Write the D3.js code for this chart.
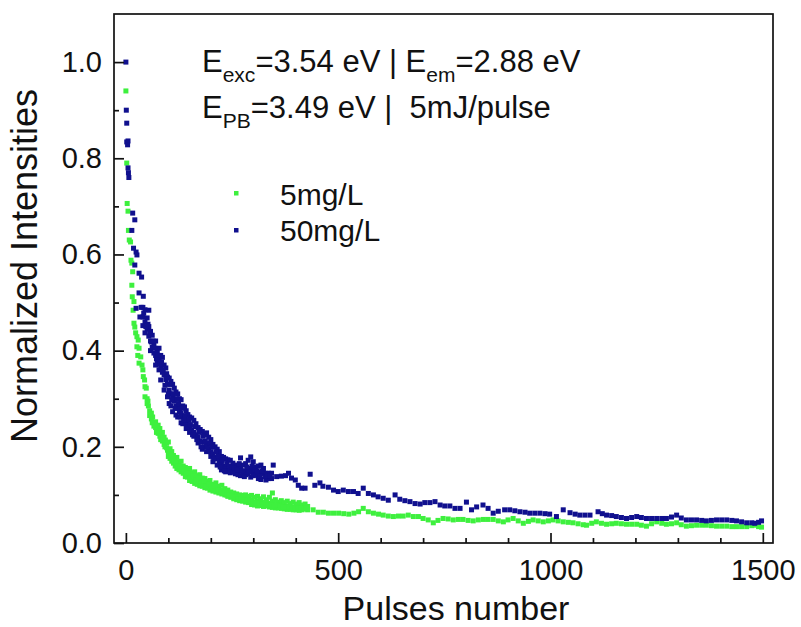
<!DOCTYPE html>
<html>
<head>
<meta charset="utf-8">
<script src="https://cdn.jsdelivr.net/npm/d3@7"></script>
<style>
  body { margin: 0; background: #fff; }
  svg { font-family: "Liberation Sans", Arial, sans-serif; }
</style>
</head>
<body>
<svg id="chart" width="801" height="627"></svg>
<script>
// [pulse, normalized intensity]
var green5 = [
  [0,0.94],[2,0.79],[3,0.706],[5,0.69],[6,0.65],[8,0.63],[11,0.626],[12,0.588],[14,0.582],[16,0.564],
  [14,0.536],[15,0.512],[19,0.502],[17,0.484],[19,0.457],[21,0.449],[23,0.437],[26,0.429],[29,0.422],[26,0.408],
  [31,0.405],[28,0.39],[35,0.387],[31,0.374],[38,0.37],[40,0.36],[41,0.346],[44,0.339],[45,0.325],[48,0.322],
  [45,0.304],[50,0.30],[50,0.29],[53,0.285],[56,0.275],[56,0.265],[60,0.27],[60,0.258],[63,0.262],[66,0.25],
  [66,0.243],[70,0.252],[70,0.24],[73,0.236],[76,0.245],[76,0.228],[80,0.238],[80,0.222],[83,0.226],[86,0.23],
  [86,0.212],[90,0.22],[90,0.205],[93,0.214],[96,0.208],[96,0.198],[100,0.21],[100,0.19],[100,0.18],[104,0.196],
  [104,0.176],[108,0.19],[108,0.17],[112,0.182],[112,0.166],[116,0.176],[116,0.16],[120,0.178],[120,0.165],[120,0.155],
  [125,0.168],[125,0.152],[130,0.17],[130,0.158],[130,0.148],[135,0.16],[135,0.145],[140,0.157],[140,0.148],[140,0.138],
  [145,0.152],[145,0.137],[150,0.155],[150,0.142],[150,0.13],[156,0.146],[156,0.128],[162,0.148],[162,0.136],[162,0.124],
  [168,0.14],[168,0.122],[174,0.142],[174,0.13],[174,0.119],[180,0.135],[180,0.118],[186,0.134],[186,0.124],[186,0.115],
  [192,0.128],[192,0.114],[198,0.13],[198,0.12],[198,0.11],[205,0.122],[205,0.108],[212,0.125],[212,0.115],[212,0.106],
  [219,0.118],[219,0.104],[226,0.12],[226,0.11],[226,0.102],[233,0.113],[233,0.10],[240,0.11],[240,0.104],[240,0.097],
  [247,0.106],[247,0.095],[254,0.104],[254,0.098],[254,0.092],[261,0.102],[261,0.09],[268,0.10],[268,0.094],[268,0.088],
  [275,0.099],[275,0.087],[282,0.10],[282,0.092],[282,0.085],[289,0.097],[289,0.084],[296,0.099],[296,0.089],[296,0.08],
  [303,0.095],[303,0.079],[310,0.097],[310,0.087],[310,0.077],[317,0.092],[317,0.078],[324,0.096],[324,0.085],[324,0.076],
  [331,0.09],[331,0.077],[338,0.095],[338,0.083],[338,0.075],[345,0.104],[345,0.087],[345,0.074],[352,0.09],[352,0.08],
  [352,0.073],[359,0.085],[359,0.073],[366,0.088],[366,0.079],[366,0.072],[373,0.084],[373,0.071],[380,0.087],[380,0.077],
  [380,0.07],[387,0.082],[387,0.07],[394,0.085],[394,0.075],[394,0.069],[401,0.081],[401,0.069],[408,0.084],[408,0.074],
  [408,0.068],[415,0.079],[415,0.069],[422,0.081],[422,0.072],[428,0.076],[428,0.069],
  [52,0.295],[58,0.268],[62,0.25],[68,0.246],[72,0.23],[78,0.232],[82,0.215],[88,0.218],[92,0.20],[98,0.193],
  [102,0.185],[106,0.183],[110,0.175],[114,0.17],[118,0.166],[122,0.16],[127,0.16],[132,0.153],[137,0.15],[142,0.143],
  [147,0.145],[152,0.135],[159,0.14],[165,0.13],[171,0.135],[177,0.124],[183,0.128],[189,0.118],[195,0.122],[202,0.115],
  [209,0.118],[216,0.11],[223,0.106],[230,0.105],[237,0.10],[244,0.10],[251,0.097],[258,0.095],[265,0.092],[272,0.092],
  [279,0.09],[286,0.089],[293,0.087],[300,0.085],[307,0.083],[314,0.083],[321,0.081],[328,0.082],[335,0.079],[342,0.08],
  [349,0.077],[356,0.078],[363,0.076],[370,0.075],[377,0.074],[384,0.075],[391,0.073],[398,0.073],[405,0.072],[412,0.072],
  [419,0.071],[425,0.073],
  [441,0.069],[453,0.064],[465,0.064],[477,0.062],[489,0.062],[501,0.062],[513,0.061],[525,0.06],[537,0.062],[548,0.065],
  [559,0.072],[571,0.065],[583,0.062],[595,0.06],[606,0.058],[618,0.056],[630,0.055],[642,0.056],[653,0.056],[665,0.058],
  [677,0.055],[689,0.055],[700,0.051],[712,0.048],[724,0.042],[735,0.047],[747,0.051],[759,0.05],[771,0.048],[783,0.049],
  [794,0.049],[806,0.047],[818,0.046],[830,0.048],[842,0.049],[853,0.049],[865,0.049],[877,0.046],[889,0.044],[900,0.048],
  [912,0.051],[924,0.046],[936,0.041],[948,0.045],[959,0.048],[971,0.046],[983,0.044],[995,0.046],[1006,0.048],[1018,0.046],
  [1030,0.044],[1042,0.043],[1053,0.042],[1065,0.04],[1077,0.038],[1085,0.037],[1097,0.041],[1108,0.044],[1120,0.041],[1132,0.039],
  [1144,0.04],[1155,0.041],[1167,0.04],[1179,0.039],[1191,0.039],[1203,0.039],[1214,0.037],[1226,0.035],[1238,0.04],[1250,0.044],
  [1262,0.041],[1273,0.039],[1285,0.04],[1297,0.042],[1308,0.038],[1320,0.035],[1332,0.036],[1344,0.037],[1356,0.037],[1367,0.037],
  [1379,0.036],[1391,0.035],[1403,0.035],[1415,0.035],[1427,0.034],[1438,0.034],[1450,0.034],[1462,0.034],[1474,0.036],[1481,0.037],
  [1490,0.034],[1497,0.033]
];

var blue50 = [
  [0,1.0],[1,0.90],[2,0.873],[2,0.834],[5,0.836],[4,0.828],[5,0.78],[6,0.77],[7,0.76],[16,0.686],
  [21,0.672],[14,0.65],[18,0.613],[24,0.605],[26,0.599],[21,0.578],[31,0.561],[37,0.553],[31,0.52],[41,0.513],
  [24,0.488],[36,0.49],[33,0.47],
  [40,0.49],[40,0.47],[40,0.452],[45,0.485],[45,0.46],[45,0.437],[50,0.468],[50,0.445],[54,0.484],[54,0.45],[54,0.43],
  [58,0.44],[58,0.42],[58,0.40],[62,0.432],[62,0.407],[66,0.414],[66,0.395],[70,0.42],[70,0.39],[70,0.37],
  [74,0.397],[74,0.375],[78,0.405],[78,0.385],[78,0.36],[82,0.39],[82,0.365],[82,0.339],[86,0.386],[86,0.355],
  [90,0.37],[90,0.35],[90,0.318],[94,0.364],[94,0.34],[98,0.345],[98,0.33],[98,0.304],[102,0.343],[102,0.318],
  [102,0.29],[106,0.336],[106,0.31],[106,0.285],[110,0.33],[110,0.302],[110,0.273],[114,0.322],[114,0.295],[118,0.314],
  [118,0.285],[118,0.266],[122,0.31],[122,0.28],[122,0.262],[126,0.30],[126,0.273],[130,0.298],[130,0.27],[130,0.25],
  [134,0.285],[134,0.262],[134,0.248],[138,0.283],[138,0.258],[142,0.275],[142,0.25],[142,0.238],[146,0.267],[146,0.245],
  [150,0.262],[150,0.24],[150,0.23],[155,0.26],[155,0.235],[160,0.255],[160,0.23],[160,0.222],[165,0.248],[165,0.225],
  [170,0.24],[170,0.22],[170,0.208],[175,0.236],[175,0.212],[180,0.232],[180,0.21],[180,0.195],[185,0.225],[185,0.20],
  [190,0.229],[190,0.205],[190,0.19],[195,0.22],[195,0.195],[200,0.215],[200,0.19],[200,0.18],[205,0.205],[205,0.185],
  [205,0.169],[210,0.20],[210,0.178],[215,0.195],[215,0.175],[215,0.162],[220,0.19],[220,0.17],[225,0.18],[225,0.165],
  [225,0.152],[230,0.178],[230,0.16],[235,0.175],[235,0.158],[235,0.148],[240,0.173],[240,0.15],[246,0.172],[246,0.155],
  [246,0.146],[252,0.166],[252,0.148],[258,0.162],[258,0.144],[264,0.16],[264,0.148],[264,0.142],[270,0.177],[270,0.155],
  [270,0.14],[276,0.162],[276,0.145],[282,0.165],[282,0.15],[282,0.142],[288,0.172],[288,0.152],[288,0.144],[294,0.179],
  [294,0.155],[294,0.137],[300,0.169],[300,0.148],[300,0.14],[306,0.158],[306,0.141],[312,0.16],[312,0.147],[312,0.134],
  [318,0.162],[318,0.145],[318,0.132],[324,0.155],[324,0.145],[330,0.145],[330,0.131],[336,0.145],[336,0.134],[343,0.134],
  [343,0.145],[347,0.162],[355,0.138],[366,0.139],[376,0.14],[383,0.145],[390,0.135],[399,0.131],[406,0.12],[414,0.114],
  [422,0.114],[434,0.143],
  [42,0.478],[47,0.45],[52,0.455],[56,0.438],[60,0.418],[64,0.42],[68,0.405],[72,0.383],[76,0.39],[80,0.372],
  [84,0.376],[88,0.36],[92,0.328],[96,0.352],[100,0.31],[104,0.33],[108,0.298],[112,0.31],[116,0.28],[120,0.30],
  [124,0.29],[128,0.262],[132,0.28],[136,0.255],[140,0.265],[144,0.242],[148,0.255],[152,0.246],[157,0.225],[162,0.242],
  [167,0.215],[172,0.23],[177,0.20],[182,0.222],[187,0.212],[192,0.20],[197,0.208],[202,0.20],[207,0.175],[212,0.19],
  [217,0.18],[222,0.158],[227,0.172],[232,0.15],[238,0.165],[243,0.16],[249,0.158],[255,0.155],[261,0.152],[267,0.165],
  [273,0.15],[279,0.138],[285,0.158],[291,0.148],[297,0.16],[303,0.152],[309,0.15],[315,0.14],[321,0.15],[327,0.138],
  [333,0.14],[339,0.14],
  [445,0.12],[457,0.125],[464,0.118],[477,0.116],[489,0.11],[500,0.107],[512,0.11],[524,0.107],[536,0.107],[547,0.103],
  [559,0.114],[571,0.103],[583,0.10],[594,0.096],[606,0.093],[618,0.089],[634,0.10],[645,0.091],[657,0.088],[669,0.086],
  [681,0.082],[693,0.081],[704,0.084],[716,0.084],[728,0.086],[740,0.079],[751,0.077],[763,0.077],[775,0.072],[787,0.072],
  [802,0.085],[814,0.069],[826,0.075],[841,0.079],[853,0.072],[865,0.062],[877,0.066],[892,0.069],[904,0.069],[916,0.067],
  [928,0.065],[940,0.064],[951,0.062],[963,0.062],[975,0.062],[987,0.061],[998,0.06],[1014,0.055],[1030,0.069],[1046,0.063],
  [1058,0.06],[1069,0.058],[1081,0.058],[1093,0.058],[1112,0.065],[1122,0.061],[1132,0.058],[1144,0.057],[1155,0.055],[1167,0.053],
  [1179,0.051],[1191,0.053],[1203,0.055],[1214,0.053],[1226,0.051],[1238,0.051],[1250,0.051],[1262,0.051],[1273,0.051],[1285,0.054],
  [1297,0.058],[1308,0.052],[1320,0.048],[1332,0.048],[1344,0.048],[1356,0.047],[1367,0.046],[1379,0.047],[1391,0.048],[1403,0.048],
  [1415,0.048],[1427,0.047],[1438,0.046],[1450,0.044],[1462,0.042],[1474,0.042],[1481,0.041],[1490,0.043],[1497,0.046]
];

var xMajor = [0, 500, 1000, 1500];
var xMinor = [100, 200, 300, 400, 600, 700, 800, 900, 1100, 1200, 1300, 1400];
var yMajor = [0, 0.2, 0.4, 0.6, 0.8, 1.0];
var yMinor = [0.1, 0.3, 0.5, 0.7, 0.9];

var seriesNames = ["5mg/L", "50mg/L"];
var seriesColors = ["#3ef03e", "#10108e"];

var svg = d3.select("#chart");
var plotLeft = 114, plotRight = 773, plotTop = 14, plotBottom = 543;

var x = d3.scaleLinear().domain([-28, 1524]).range([plotLeft, plotRight]);
var y = d3.scaleLinear().domain([0, 1.1]).range([plotBottom, plotTop]);

// data points (green first, blue on top)
var ms = 5;
[green5, blue50].forEach(function(series, i) {
  svg.append("g")
    .selectAll("rect")
    .data(series)
    .enter()
    .append("rect")
    .attr("x", function(d){ return x(d[0]) - ms/2; })
    .attr("y", function(d){ return y(d[1]) - ms/2; })
    .attr("width", ms)
    .attr("height", ms)
    .attr("fill", seriesColors[i]);
});

// axes, ticks inward
svg.append("g")
  .attr("transform", "translate(0," + plotBottom + ")")
  .call(d3.axisBottom(x).tickValues(xMajor).tickSize(-10).tickPadding(16).tickFormat(d3.format("d")));
svg.append("g")
  .attr("transform", "translate(0," + plotBottom + ")")
  .call(d3.axisBottom(x).tickValues(xMinor).tickSize(-5).tickFormat(""));

svg.append("g")
  .attr("transform", "translate(" + plotLeft + ",0)")
  .call(d3.axisLeft(y).tickValues(yMajor).tickSize(-10).tickPadding(12).tickFormat(d3.format(".1f")));
svg.append("g")
  .attr("transform", "translate(" + plotLeft + ",0)")
  .call(d3.axisLeft(y).tickValues(yMinor).tickSize(-5).tickFormat(""));

svg.selectAll(".domain").remove();
svg.selectAll(".tick line").attr("stroke", "#111").attr("stroke-width", 1.7);
svg.selectAll(".tick text").attr("fill", "#111").style("font-size", "29px");

// frame
svg.append("rect")
  .attr("x", plotLeft).attr("y", plotTop)
  .attr("width", plotRight - plotLeft).attr("height", plotBottom - plotTop)
  .attr("fill", "none").attr("stroke", "#111").attr("stroke-width", 1.7);

// axis titles
svg.append("text")
  .attr("x", 456).attr("y", 620)
  .attr("text-anchor", "middle").style("font-size", "34px").attr("fill", "#111")
  .text("Pulses number");
svg.append("text")
  .attr("transform", "translate(37,266) rotate(-90)")
  .attr("text-anchor", "middle").style("font-size", "36px").attr("fill", "#111")
  .text("Normalized Intensities");

// annotation
var note1 = svg.append("text").attr("x", 202).attr("y", 72).style("font-size", "31px").attr("fill", "#111");
note1.append("tspan").text("E");
note1.append("tspan").attr("dy", 10).style("font-size", "21px").text("exc");
note1.append("tspan").attr("dy", -10).text("=3.54 eV | E");
note1.append("tspan").attr("dy", 10).style("font-size", "21px").text("em");
note1.append("tspan").attr("dy", -10).text("=2.88 eV");

var note2 = svg.append("text").attr("x", 202).attr("y", 118).style("font-size", "31px").attr("fill", "#111");
note2.append("tspan").text("E");
note2.append("tspan").attr("dy", 10).style("font-size", "21px").text("PB");
note2.append("tspan").attr("dy", -10).attr("xml:space", "preserve").text("=3.49 eV |  5mJ/pulse");

// legend
var legend = svg.append("g");
seriesNames.forEach(function(name, i) {
  legend.append("rect")
    .attr("x", 234).attr("y", 191 + i * 37)
    .attr("width", 4.5).attr("height", 4.5)
    .attr("fill", seriesColors[i]);
  legend.append("text")
    .attr("x", 280).attr("y", 205 + i * 36)
    .style("font-size", "30px").attr("fill", "#111")
    .text(name);
});
</script>
</body>
</html>
